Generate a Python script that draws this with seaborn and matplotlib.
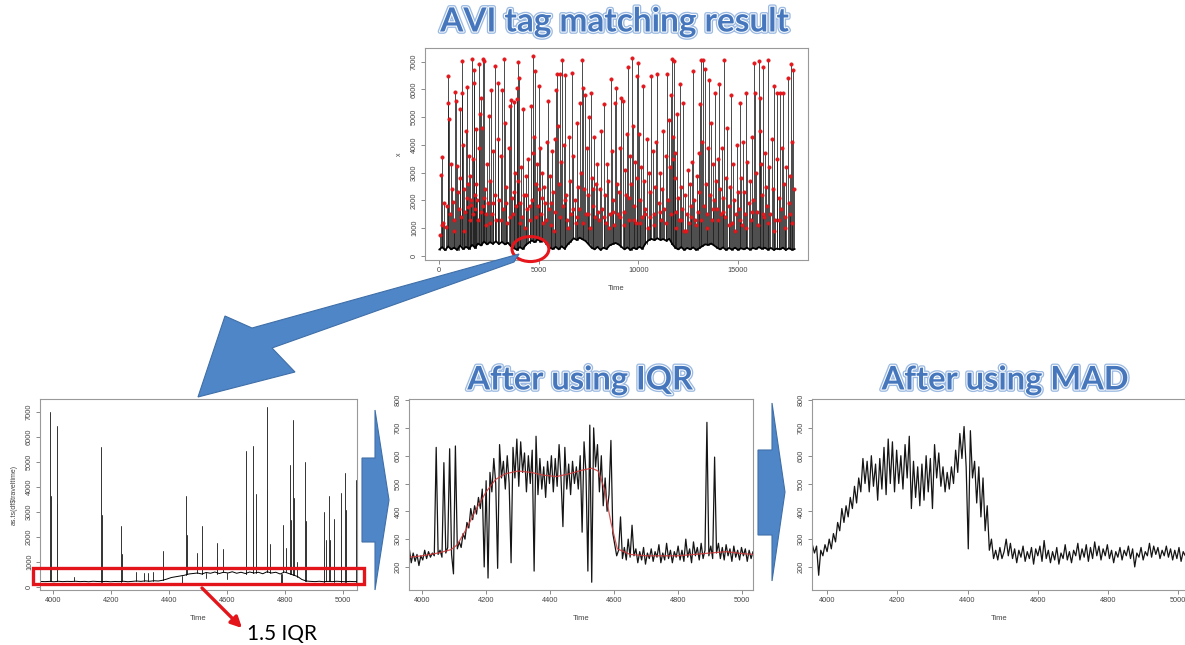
import numpy as np
import pandas as pd
import matplotlib
matplotlib.use("Agg")
import matplotlib.pyplot as plt
import matplotlib.patheffects as pe
from matplotlib.patches import Polygon, Ellipse, Rectangle, FancyArrowPatch
import seaborn as sns

W, H = 1185, 645

# -- Data: raw AVI travel times (top panel) ---------------------------------
# baseline every 150 time steps, starting at 0
top_base_v = [
    230, 320, 210, 350, 240, 300, 220, 380, 250, 330,
    260, 400, 300, 450, 380, 520, 420, 500, 440, 530,
    430, 510, 420, 480, 350, 280, 230, 320, 250, 400,
    480, 560, 500, 600, 520, 580, 430, 300, 250, 330,
    240, 350, 260, 420, 520, 640, 580, 660, 600, 540,
    420, 300, 240, 330, 220, 300, 250, 380, 430, 470,
    420, 330, 240, 310, 220, 300, 250, 330, 260, 450,
    560, 620, 570, 640, 580, 610, 550, 620, 430, 300,
    240, 320, 220, 290, 240, 310, 220, 280, 350, 420,
    400, 450, 380, 300, 240, 310, 220, 290, 230, 300,
    220, 280, 240, 300, 230, 290, 250, 320, 260, 300,
    230, 290, 220, 270, 240, 300, 220, 280, 230, 250,
]
# flagged outliers (red points) - time and value
top_spike_t = [
    30, 80, 130, 170, 250, 320, 420, 453, 500, 560, 610, 680, 720, 790, 840, 880, 930, 970,
    1020, 1060, 1123, 1170, 1210, 1260, 1300, 1340, 1380, 1420, 1460, 1500, 1540, 1580, 1640, 1680, 1730, 1760, 1790, 1820, 1860, 1900, 1940, 1980,
    2010, 2050, 2100, 2140, 2180, 2220, 2260, 2300, 2350, 2400, 2450, 2500, 2560, 2620, 2660, 2720, 2780, 2820, 2870, 2930, 2970,
    3020, 3080, 3150, 3200, 3250, 3300, 3360, 3420, 3480, 3540, 3600, 3650, 3700, 3740, 3800, 3860, 3890, 3910, 3950, 3970, 3990,
    4040, 4100, 4150, 4200, 4260, 4320, 4380, 4430, 4480, 4540, 4600, 4650, 4700, 4730, 4770, 4810, 4850, 4900, 4950, 4990,
    5030, 5070, 5120, 5180, 5230, 5280, 5330, 5400, 5450, 5500, 5560, 5620, 5680, 5730, 5790, 5830, 5870, 5920, 5960,
    6020, 6080, 6120, 6170, 6220, 6270, 6340, 6390, 6440, 6500, 6560, 6620, 6680, 6740, 6800, 6850, 6900, 6960,
    7020, 7080, 7130, 7170, 7210, 7260, 7300, 7350, 7400, 7450, 7500, 7550, 7600, 7650, 7700, 7760, 7820, 7880, 7940,
    8010, 8070, 8130, 8190, 8250, 8310, 8370, 8430, 8490, 8550, 8600, 8650, 8710, 8770, 8830, 8880, 8940, 8980,
    9040, 9100, 9140, 9220, 9270, 9330, 9380, 9420, 9470, 9520, 9580, 9630, 9670, 9720, 9780, 9830, 9870, 9910, 9950, 9990,
    10040, 10090, 10140, 10190, 10230, 10290, 10350, 10410, 10470, 10530, 10590, 10650, 10710, 10770, 10830, 10890, 10950,
    11010, 11070, 11120, 11180, 11240, 11300, 11360, 11430, 11480, 11530, 11580, 11630, 11690, 11720, 11750, 11790, 11830, 11860, 11900, 11940, 11980,
    12040, 12080, 12130, 12190, 12250, 12300, 12360, 12420, 12480, 12540, 12600, 12660, 12710, 12750, 12800, 12860, 12920, 12970,
    13020, 13060, 13100, 13160, 13210, 13250, 13300, 13360, 13410, 13460, 13500, 13550, 13600, 13650, 13700, 13750, 13800, 13830, 13880, 13930, 13970,
    14040, 14080, 14130, 14180, 14230, 14300, 14350, 14410, 14470, 14530, 14590, 14640, 14700, 14760, 14820, 14880, 14940, 14980,
    15040, 15090, 15140, 15200, 15260, 15320, 15370, 15420, 15470, 15530, 15590, 15650, 15700, 15760, 15810, 15850, 15900, 15950,
    16040, 16080, 16120, 16160, 16200, 16230, 16280, 16330, 16380, 16440, 16510, 16560, 16620, 16680, 16740, 16820, 16880, 16940, 16980,
    17040, 17100, 17150, 17200, 17270, 17320, 17380, 17430, 17490, 17540, 17600, 17640, 17690, 17730, 17770, 17800,
]
top_spike_h = [
    760, 2920, 3580, 1200, 1900, 1050, 5510, 6490, 4930, 1500, 3300, 1950, 900, 5920, 5570, 3250, 2300, 1700,
    5300, 2800, 7030, 5860, 4000, 2400, 1600, 4500, 6100, 2100, 1750, 3600, 2900, 1850, 7090, 3500, 6250, 6700, 2200, 1700, 4560, 2000, 1300, 3900,
    6910, 5100, 5700, 4600, 7110, 1800, 7020, 2400, 1100, 3300, 1900, 5050, 2700, 5980, 1500, 3800, 2200, 6840, 1300, 6250, 4200,
    2000, 3600, 5980, 1700, 7090, 4800, 2500, 1200, 3900, 5400, 5620, 2100, 1500, 5550, 3000, 1800, 5670, 6040, 2700, 7000, 6430,
    1900, 3200, 1400, 5300, 2200, 1000, 2900, 1700, 3500, 1300, 5400, 2000, 3700, 7210, 4300, 6670, 2600, 3300, 1800, 2400,
    6120, 3900, 1500, 3000, 1200, 2500, 1900, 4100, 5580, 1700, 2900, 1100, 3800, 2300, 4200, 1600, 5980, 6540, 4700,
    2600, 6560, 3400, 7050, 1800, 4000, 6520, 2200, 1300, 4300, 2700, 1500, 6600, 3600, 2000, 1200, 4800, 2500,
    1700, 5500, 3000, 7050, 6070, 2400, 5810, 1500, 3900, 2200, 5000, 1000, 5860, 2800, 1800, 4300, 1400, 2600, 3300,
    1300, 2400, 4500, 1700, 5460, 2200, 1200, 3300, 2700, 1500, 6360, 3800, 2000, 1100, 5500, 6040, 2600, 1500,
    2300, 3900, 5680, 5600, 1600, 3100, 2200, 4400, 6820, 1300, 3600, 2600, 7140, 4700, 1800, 3400, 1200, 6490, 2800, 6970,
    4400, 2000, 3200, 1400, 6130, 2700, 1700, 4200, 1000, 3000, 2300, 6490, 3800, 1500, 2500, 4100, 6570,
    1900, 3000, 1300, 2400, 4500, 1700, 3600, 6570, 2000, 4900, 3200, 5800, 7090, 4300, 3500, 7020, 2800, 3700, 1600, 5100, 2100,
    1300, 6180, 2500, 1700, 5530, 900, 2200, 1500, 3100, 1200, 2600, 1800, 3400, 6650, 2000, 1300, 2900, 1600,
    3700, 2300, 5460, 7050, 4100, 7050, 1800, 6730, 2600, 1500, 3900, 6330, 2200, 4800, 1300, 3300, 2000, 5880, 2700, 1700, 3500,
    6180, 2400, 1500, 3900, 2100, 7050, 1400, 2800, 4600, 1800, 2500, 5800, 1200, 3300, 2000, 1500, 4000, 2300,
    1700, 5500, 2800, 1100, 4100, 2300, 1500, 5860, 3400, 1900, 2700, 1300, 4300, 2000, 6970, 5880, 3000, 1600,
    7020, 4500, 5700, 3300, 2200, 6820, 1400, 3700, 2500, 1800, 7050, 3200, 1500, 4200, 2400, 6120, 1300, 3500, 5860,
    2100, 5860, 1700, 3900, 5880, 2600, 1400, 3200, 6420, 1900, 2900, 6910, 4100, 1200, 6700, 2400,
]
# smaller flagged outliers close to the baseline band
top_low_t = [150, 380, 650, 760, 1100, 1240, 1440, 1560, 1610, 1700, 1840, 2080, 2240, 2330,
             2540, 2700, 3100, 3330, 3560, 3770, 4070, 4340, 4560, 4880, 5150, 5360, 5590,
             5760, 6050, 6300, 6470, 6710, 6930, 7230, 7480, 7720, 7980, 8280, 8520, 8740,
             9070, 9300, 9550, 9800, 10060, 10320, 10560, 10800, 11100, 11400, 11660, 11880,
             12160, 12390, 12630, 12900, 13140, 13440, 13720, 14010, 14270, 14560, 14850,
             15110, 15400, 15680, 15980, 16260, 16500, 16790, 17070, 17350, 17610]
top_low_h = [1100, 1800, 2400, 1300, 1400, 900, 2600, 1300, 2000, 1500, 2600, 1600, 2100, 1500,
             1200, 1900, 1300, 1900, 1400, 2300, 1200, 2200, 1800, 1400, 2100, 1300, 1900,
             900, 1400, 2000, 1000, 1700, 1400, 1200, 1500, 2400, 1600, 1400, 1000, 1600,
             1400, 1100, 2100, 1300, 1200, 1500, 1400, 1100, 1600, 1200, 1500, 1000,
             1300, 900, 1400, 1100, 1300, 1000, 1700, 1300, 1600, 1100, 900,
             1300, 1000, 1600, 1100, 1500, 1200, 900, 1300, 1000, 1500]

# -- Data: zoomed raw window (bottom left) ----------------------------------
# baseline every 15 time steps, starting at 3958
left_base_v = [
    220, 215, 225, 210, 230, 215, 225, 220, 230, 215,
    225, 210, 230, 220, 215, 225, 210, 220, 215, 230,
    210, 225, 240, 225, 245, 230, 250, 240, 270, 320,
    380, 410, 440, 470, 520, 540, 560, 520, 580, 550,
    600, 540, 590, 560, 610, 550, 590, 540, 600, 560,
    590, 530, 610, 560, 590, 520, 600, 540, 480, 420,
    300, 240, 225, 215, 230, 210, 225, 215, 230, 220,
    210, 225, 215, 220,
]
left_spike_t = [3990, 3992, 4013, 4015, 4073, 4166, 4168, 4235, 4237, 4287,
                4312, 4329, 4346, 4378, 4380, 4459, 4461, 4496, 4513, 4515,
                4565, 4567, 4586, 4665, 4667, 4689, 4691, 4699, 4701, 4737,
                4739, 4749, 4794, 4802, 4818, 4820, 4829, 4831, 4841, 4869,
                4871, 4933, 4935, 4941, 4952, 4954, 4967, 4992, 4994, 5007,
                5009, 5044, 5046, 4443, 4526, 4600, 4786, 4790]
left_spike_h = [7000, 3630, 6440, 3330, 420, 5600, 2900, 2430, 1340, 620,
                560, 580, 600, 1430, 950, 3630, 2070, 1370, 2430, 1520,
                1780, 1150, 1510, 5460, 2980, 5650, 3100, 3720, 2150, 7200,
                3870, 1720, 2470, 1560, 4880, 2700, 6670, 3560, 1000, 5000,
                2630, 3020, 1620, 1900, 3630, 1900, 2710, 3770, 2030, 4560,
                3080, 4270, 2300, 150, 350, 330, 80, 120]

# -- Data: after IQR filter (every 6 steps from 3960) ------------------------
iqr_v = [
    265, 215, 250, 220, 245, 205, 240, 225, 260, 230, 255, 235, 250, 240, 630,
    245, 260, 235, 575, 250, 270, 625, 245, 175, 635, 265, 290, 270, 320, 300,
    360, 340, 410, 370, 420, 390, 450, 410, 480, 200, 510, 160, 540, 470, 590,
    500, 195, 640, 520, 580, 480, 600, 500, 215, 630, 520, 660, 490, 650, 540,
    610, 470, 600, 500, 620, 185, 670, 460, 590, 480, 560, 450, 580, 500, 600,
    470, 590, 490, 640, 520, 345, 630, 480, 570, 460, 580, 500, 560, 480, 600,
    325, 650, 540, 185, 710, 145, 700, 560, 640, 470, 600, 420, 520, 400, 460,
    655, 320, 280, 240, 260, 380, 230, 270, 225, 300, 235, 350, 240, 265, 215,
    255, 225, 270, 210, 250, 230, 265, 220, 255, 235, 280, 215, 250, 225, 285,
    230, 260, 215, 255, 235, 275, 225, 260, 220, 300, 235, 265, 215, 290, 240,
    270, 225, 285, 230, 260, 720, 240, 275, 230, 595, 250, 285, 230, 270, 225,
    280, 240, 265, 220, 275, 235, 260, 225, 270, 240, 265, 220, 260, 230, 255,
]
iqr_smooth_t = [3960, 4000, 4050, 4090, 4110, 4140, 4170, 4200, 4230, 4260,
                4300, 4340, 4380, 4420, 4460, 4500, 4530, 4550, 4570, 4590,
                4610, 4650, 4700, 4800, 4900, 4950, 5000, 5034]
iqr_smooth_v = [235, 240, 250, 262, 280, 340, 410, 470, 515, 535,
                545, 540, 530, 525, 535, 548, 555, 545, 480, 360,
                265, 245, 240, 240, 250, 255, 248, 245]

# -- Data: after MAD filter (every 6 steps from 3958) ------------------------
mad_v = [
    280, 250, 275, 170, 260, 240, 280, 255, 300, 265, 320, 290, 360, 330, 410,
    360, 420, 380, 450, 410, 490, 430, 520, 470, 590, 500, 580, 470, 600, 490,
    570, 440, 590, 480, 630, 460, 660, 500, 650, 470, 620, 500, 600, 480, 640,
    520, 670, 410, 580, 450, 560, 420, 570, 440, 600, 470, 590, 410, 640, 520,
    610, 490, 560, 470, 540, 480, 560, 500, 620, 540, 680, 590, 705, 560, 265,
    690, 520, 580, 430, 560, 380, 520, 330, 420, 260, 300, 230, 260, 225, 270,
    230, 255, 300, 240, 285, 230, 265, 215, 260, 235, 275, 220, 255, 230, 270,
    210, 265, 240, 275, 220, 295, 230, 260, 215, 255, 225, 270, 210, 250, 230,
    280, 225, 255, 215, 260, 240, 285, 225, 265, 235, 280, 220, 270, 230, 290,
    240, 275, 225, 265, 240, 280, 230, 260, 215, 255, 235, 270, 225, 260, 240,
    275, 230, 265, 200, 250, 235, 270, 225, 255, 240, 285, 235, 275, 245, 270,
    230, 260, 240, 275, 235, 265, 225, 260, 230, 270, 220, 255, 240,
]

iqr_t = 3960 + 6 * np.arange(len(iqr_v))
mad_t = 3958 + 6 * np.arange(len(mad_v))
top_base_t = 150 * np.arange(len(top_base_v))
left_base_t = 3958 + 15 * np.arange(len(left_base_v))
top_all_t = top_spike_t + top_low_t
top_all_h = top_spike_h + top_low_h


def spike_frame(base_t, base_v, spike_t, spike_h):
    """Each spike is a vertical line from the nearest baseline value up to its peak."""
    base_t = np.asarray(base_t)
    base_v = np.asarray(base_v)
    rows = []
    for i, (t, h) in enumerate(zip(spike_t, spike_h)):
        foot = base_v[np.abs(base_t - t).argmin()]
        rows.append((i, t, foot))
        rows.append((i, t, h))
    return pd.DataFrame(rows, columns=["spike", "t", "v"])


# -- Setup -----------------------------------------------------------------
sns.set_theme(style="white")
plt.rcParams["font.family"] = ["Liberation Sans", "DejaVu Sans"]

fig = plt.figure(figsize=(W / 100, H / 100), dpi=100)
fig.patch.set_facecolor("white")


def px_axes(left, top, right, bottom):
    return fig.add_axes([left / W, 1 - bottom / H, (right - left) / W, (bottom - top) / H])


def r_style(ax, xlim, ylim, xticks, yticks, ylabel=""):
    ax.set_xlim(*xlim)
    ax.set_ylim(*ylim)
    ax.set_xticks(xticks)
    ax.set_yticks(yticks)
    ax.tick_params(axis="both", direction="out", length=3, width=0.6, color="#777",
                   labelsize=5.3, labelcolor="#444", pad=2, bottom=True, left=True)
    ax.tick_params(axis="y", labelrotation=90)
    for lab in ax.get_yticklabels():
        lab.set_va("center")
    for s in ax.spines.values():
        s.set_color("#999")
        s.set_linewidth(0.8)
    ax.set_xlabel("Time", fontsize=5.5, color="#444", labelpad=8)
    ax.set_ylabel(ylabel, fontsize=5, color="#444", labelpad=6)
    ax.set_facecolor("white")


title_fx = [pe.Stroke(linewidth=3.4, foreground="#9dbbe2"),
            pe.Stroke(linewidth=1.5, foreground="white"),
            pe.Normal()]


def wordart(x, y, s, size):
    fig.text(x / W, 1 - y / H, s, ha="center", va="center", fontsize=size,
             fontweight="bold", color="#4677bd", family=["Lato", "DejaVu Sans"],
             path_effects=title_fx)


# -- Top: AVI tag matching result -----------------------------------------
ax_top = px_axes(425, 48, 808, 260)
top_spikes = spike_frame(top_base_t, top_base_v, top_all_t, top_all_h)
sns.lineplot(data=top_spikes, x="t", y="v", units="spike", estimator=None,
             color="#1a1a1a", lw=0.55, ax=ax_top, legend=False)
sns.lineplot(x=top_base_t, y=top_base_v, color="black", lw=1.3, ax=ax_top)
sns.scatterplot(x=top_all_t, y=top_all_h, color="#e5161c", s=7,
                edgecolor="#d01212", linewidth=0.2, ax=ax_top, zorder=3)
r_style(ax_top, (-712, 18512), (-144, 7494), [0, 5000, 10000, 15000],
        range(0, 7001, 1000), ylabel="x")
ax_top.add_patch(Ellipse((4580, 250), 1850, 900, fill=False, ec="#e5161c",
                         lw=2.2, clip_on=False, zorder=4))
wordart(615, 22, "AVI tag matching result", 24)

# -- Bottom left: zoomed raw window -----------------------------------------
ax_left = px_axes(40, 399, 357, 590)
left_spikes = spike_frame(left_base_t, left_base_v, left_spike_t, left_spike_h)
sns.lineplot(data=left_spikes, x="t", y="v", units="spike", estimator=None,
             color="#333", lw=0.7, ax=ax_left, legend=False)
sns.lineplot(x=left_base_t, y=left_base_v, color="black", lw=0.7, ax=ax_left)
r_style(ax_left, (3955, 5048), (-120, 7520), range(4000, 5001, 200),
        range(0, 7001, 1000), ylabel="as.ts(df$traveltime)")

# -- Bottom middle: after IQR -----------------------------------------------
ax_iqr = px_axes(409, 399, 753, 590)
sns.lineplot(x=iqr_t, y=iqr_v, color="#151515", lw=0.9, ax=ax_iqr)
sns.lineplot(x=iqr_smooth_t, y=iqr_smooth_v, color="#d03a3a", lw=0.9, alpha=0.85, ax=ax_iqr)
r_style(ax_iqr, (3959, 5034), (117, 804), range(4000, 5001, 200), range(200, 801, 100))
wordart(580, 380, "After using IQR", 23.5)

# -- Bottom right: after MAD ------------------------------------------------
ax_mad = px_axes(812, 399, 1186, 590)
sns.lineplot(x=mad_t, y=mad_v, color="#151515", lw=0.9, ax=ax_mad)
r_style(ax_mad, (3957, 5022), (117, 804), range(4000, 5001, 200), range(200, 801, 100))
ax_mad.spines["right"].set_visible(False)
wordart(1005, 380, "After using MAD", 23.5)


# -- Annotations: arrows, box, label ----------------------------------------
def fpts(pts):
    return [(x / W, 1 - y / H) for x, y in pts]


blue = "#4f86c8"
big_arrow = [(519, 254), (252, 328), (225, 316), (198, 397), (295, 372), (272, 348), (514, 262)]
chevron1 = [(362, 458), (375, 458), (375, 410), (389, 500), (375, 590), (375, 542), (362, 542)]
chevron2 = [(758, 450), (772, 450), (772, 403), (785, 492), (772, 581), (772, 535), (758, 535)]
for shape in (big_arrow, chevron1, chevron2):
    fig.add_artist(Polygon(fpts(shape), closed=True, transform=fig.transFigure,
                           fc=blue, ec="#3f6fa8", lw=0.8, zorder=10))

fig.add_artist(Rectangle((33 / W, 1 - 584 / H), 331 / W, 16 / H, transform=fig.transFigure,
                         fill=False, ec="#e3141a", lw=2.4, zorder=10))
fig.add_artist(FancyArrowPatch(fpts([(200, 586)])[0], fpts([(244, 630)])[0],
                               transform=fig.transFigure, arrowstyle="-|>",
                               mutation_scale=16, lw=2.4, color="#e3141a", zorder=10))
fig.text(247 / W, 1 - 634 / H, "1.5 IQR", fontsize=15, va="center", ha="left",
         color="black", family=["Lato", "DejaVu Sans"])

fig.savefig("out.png", dpi=100)
